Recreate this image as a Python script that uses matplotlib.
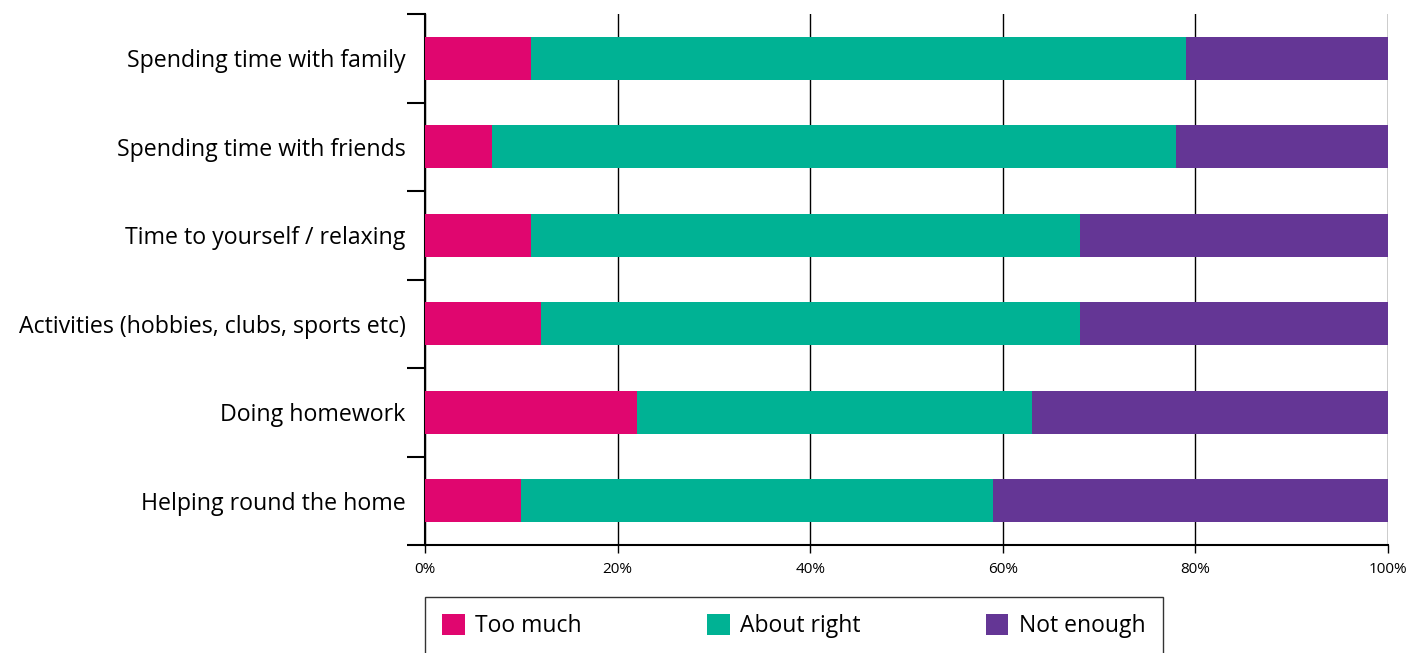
import numpy as np
import matplotlib.pyplot as plt
from matplotlib.ticker import MultipleLocator, PercentFormatter

plt.rcParams['font.family'] = ['Open Sans', 'DejaVu Sans']

categories = [
    "Spending time with family",
    "Spending time with friends",
    "Time to yourself / relaxing",
    "Activities (hobbies, clubs, sports etc)",
    "Doing homework",
    "Helping round the home",
]
too_much = [11, 7, 11, 12, 22, 10]
about_right = [68, 71, 57, 56, 41, 49]
not_enough = [21, 22, 32, 32, 37, 41]

series = [
    ("Too much", too_much, "#E0066F"),
    ("About right", about_right, "#00B294"),
    ("Not enough", not_enough, "#643695"),
]

fig = plt.figure(figsize=(14.27, 6.53), dpi=100)
ax = fig.add_axes([425 / 1427, 1 - 545 / 653, (1388 - 425) / 1427, (545 - 14) / 653])

y = np.arange(len(categories))
left = np.zeros(len(categories))
for name, vals, color in series:
    ax.barh(y, vals, left=left, height=0.49, color=color, label=name, zorder=3)
    left += np.array(vals)

ax.set_xlim(0, 100)
ax.set_ylim(len(categories) - 0.5, -0.5)

ax.xaxis.set_major_locator(MultipleLocator(20))
ax.xaxis.set_major_formatter(PercentFormatter(decimals=0))
ax.grid(axis='x', color='black', linewidth=1, zorder=0)

ax.set_yticks(y)
ax.set_yticklabels(categories, fontsize=16.7)
ax.set_yticks(np.arange(-0.5, len(categories)), minor=True)
ax.tick_params(axis='y', which='major', length=0, pad=14)
ax.tick_params(axis='y', which='minor', length=13, width=1.5, color='black')
ax.tick_params(axis='x', length=6, width=1, labelsize=11, pad=6)

for s in ['top', 'right']:
    ax.spines[s].set_visible(False)
ax.spines['left'].set_linewidth(1.5)
ax.spines['bottom'].set_linewidth(1.5)

leg = fig.legend(loc='upper left', bbox_to_anchor=(425 / 1427, 1 - 597 / 653),
                 ncol=3, frameon=True, fancybox=False, edgecolor='black',
                 prop={'size': 16.5},
                 handlelength=1.0, handleheight=1.0,
                 handletextpad=0.45, columnspacing=5.45, borderpad=0.75,
                 borderaxespad=0)
leg.get_frame().set_linewidth(1)

fig.savefig("out.png", dpi=100)
